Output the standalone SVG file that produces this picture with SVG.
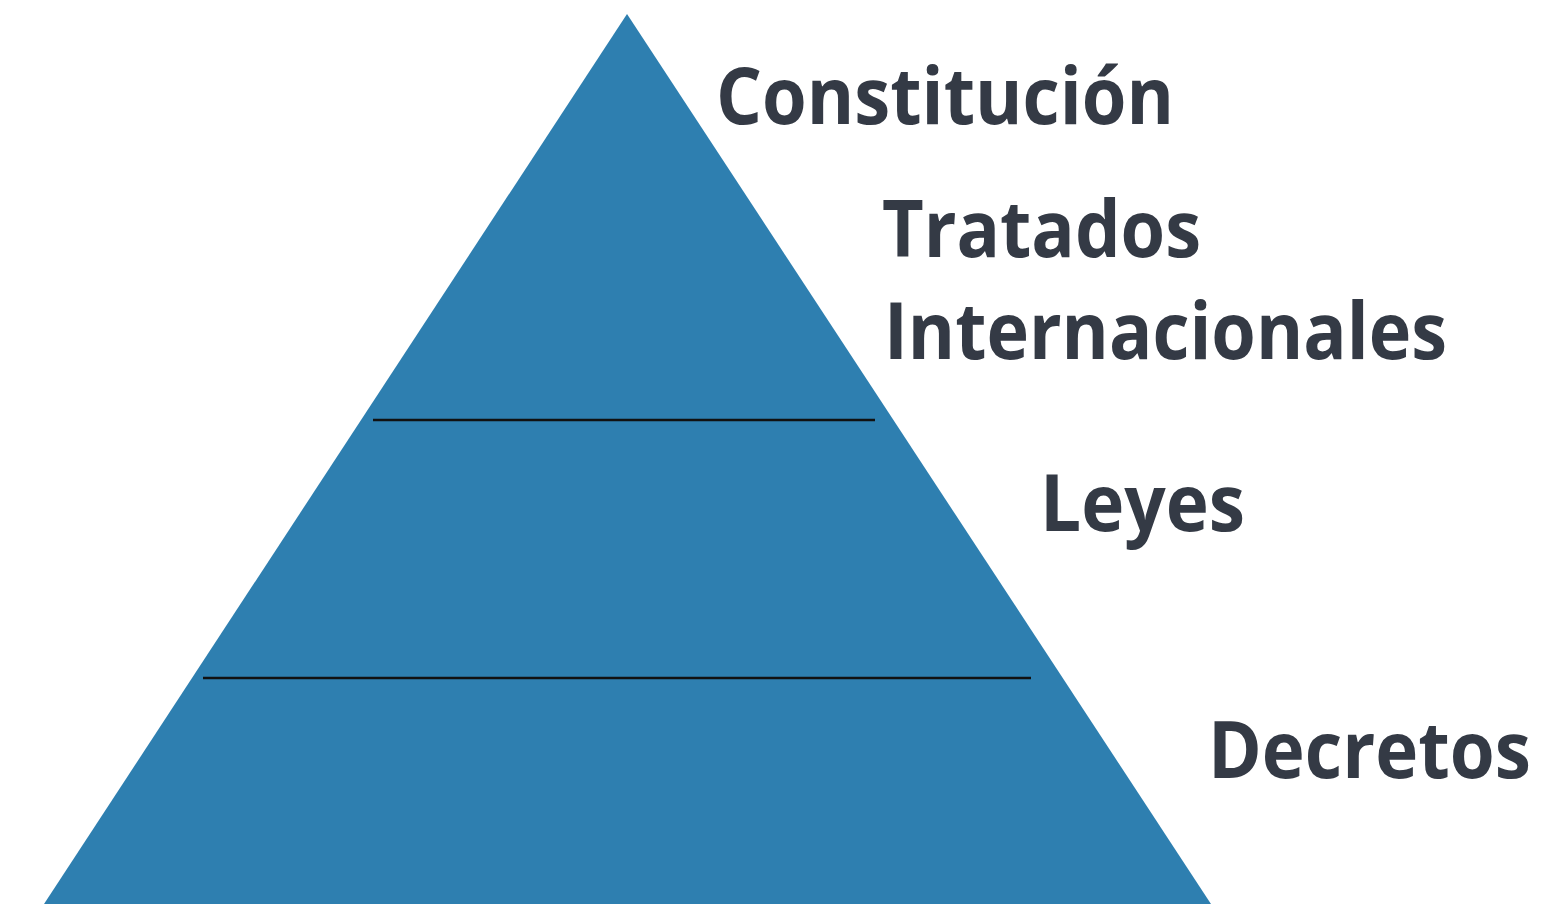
<svg xmlns="http://www.w3.org/2000/svg" width="1553" height="905" viewBox="0 0 1553 905">
<style>
.lbl{font-family:"Open Sans","Noto Sans","Liberation Sans",sans-serif;font-weight:700;font-size:79px;fill:#343a45}
.div{stroke:#111;stroke-width:2.5}
</style>
<rect width="1553" height="905" fill="#ffffff"/>
<g id="pyramid">
<polygon points="627,14 44,904 1211,904" fill="#2e7fb0"/>
</g>
<g id="connectors">
<line class="div" x1="373" y1="420" x2="875" y2="420"/>
<line class="div" x1="203" y1="678" x2="1031" y2="678"/>
</g>
<g id="constitucion"><text class="lbl" x="716" y="124" textLength="458" lengthAdjust="spacingAndGlyphs">Constitución</text></g>
<g id="tratados"><text class="lbl" x="882" y="257" textLength="319" lengthAdjust="spacingAndGlyphs">Tratados</text><text class="lbl" x="884" y="359" textLength="563" lengthAdjust="spacingAndGlyphs">Internacionales</text></g>
<g id="leyes"><text class="lbl" x="1040" y="531" textLength="205" lengthAdjust="spacingAndGlyphs">Leyes</text></g>
<g id="decretos"><text class="lbl" x="1208" y="778" textLength="323" lengthAdjust="spacingAndGlyphs">Decretos</text></g>
</svg>
